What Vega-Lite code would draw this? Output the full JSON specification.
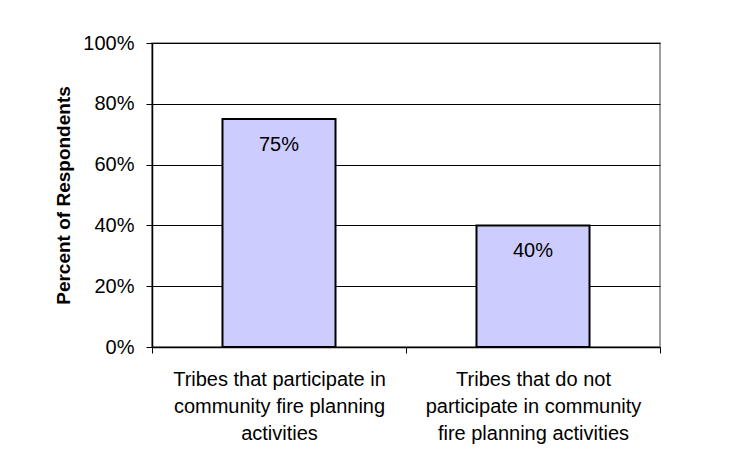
{
  "$schema": "https://vega.github.io/schema/vega-lite/v6.json",
  "width": 508,
  "height": 304,
  "autosize": {"type": "none"},
  "padding": {"left": 152, "top": 43, "right": 83, "bottom": 121},
  "background": "white",
  "config": {
    "font": "Liberation Sans",
    "view": {"stroke": "#808080", "strokeWidth": 1.5}
  },
  "data": {
    "values": [
      {"group": "Tribes that participate in|community fire planning|activities", "pct": 0.75, "label": "75%"},
      {"group": "Tribes that do not|participate in community|fire planning activities", "pct": 0.40, "label": "40%"}
    ]
  },
  "encoding": {
    "x": {
      "field": "group",
      "type": "nominal",
      "sort": null,
      "scale": {"paddingInner": 0, "paddingOuter": 0},
      "axis": {
        "title": null,
        "labelAngle": 0,
        "labelExpr": "split(datum.label, '|')",
        "labelFontSize": 20,
        "labelColor": "black",
        "labelLimit": 400,
        "labelLineHeight": 27,
        "labelPadding": 16,
        "tickBand": "extent",
        "tickColor": "black",
        "tickSize": 6,
        "domainColor": "black",
        "domainWidth": 1.5,
        "grid": false
      }
    },
    "y": {
      "field": "pct",
      "type": "quantitative",
      "scale": {"domain": [0, 1]},
      "axis": {
        "title": "Percent of Respondents",
        "titleFontSize": 19,
        "titleFontWeight": "bold",
        "titleColor": "black",
        "titlePadding": 9,
        "format": ".0%",
        "values": [0, 0.2, 0.4, 0.6, 0.8, 1],
        "labelFontSize": 20,
        "labelColor": "black",
        "labelPadding": 12,
        "tickColor": "black",
        "tickSize": 6,
        "domainColor": "black",
        "domainWidth": 1.5,
        "grid": true,
        "gridColor": "black",
        "gridWidth": 1,
        "gridOpacity": 1
      }
    }
  },
  "layer": [
    {
      "mark": {"type": "bar", "fill": "#CCCCFF", "stroke": "black", "strokeWidth": 2, "width": {"band": 0.445}}
    },
    {
      "mark": {"type": "text", "baseline": "top", "dy": 16, "fontSize": 20, "color": "black"},
      "encoding": {"text": {"field": "label"}}
    }
  ]
}
